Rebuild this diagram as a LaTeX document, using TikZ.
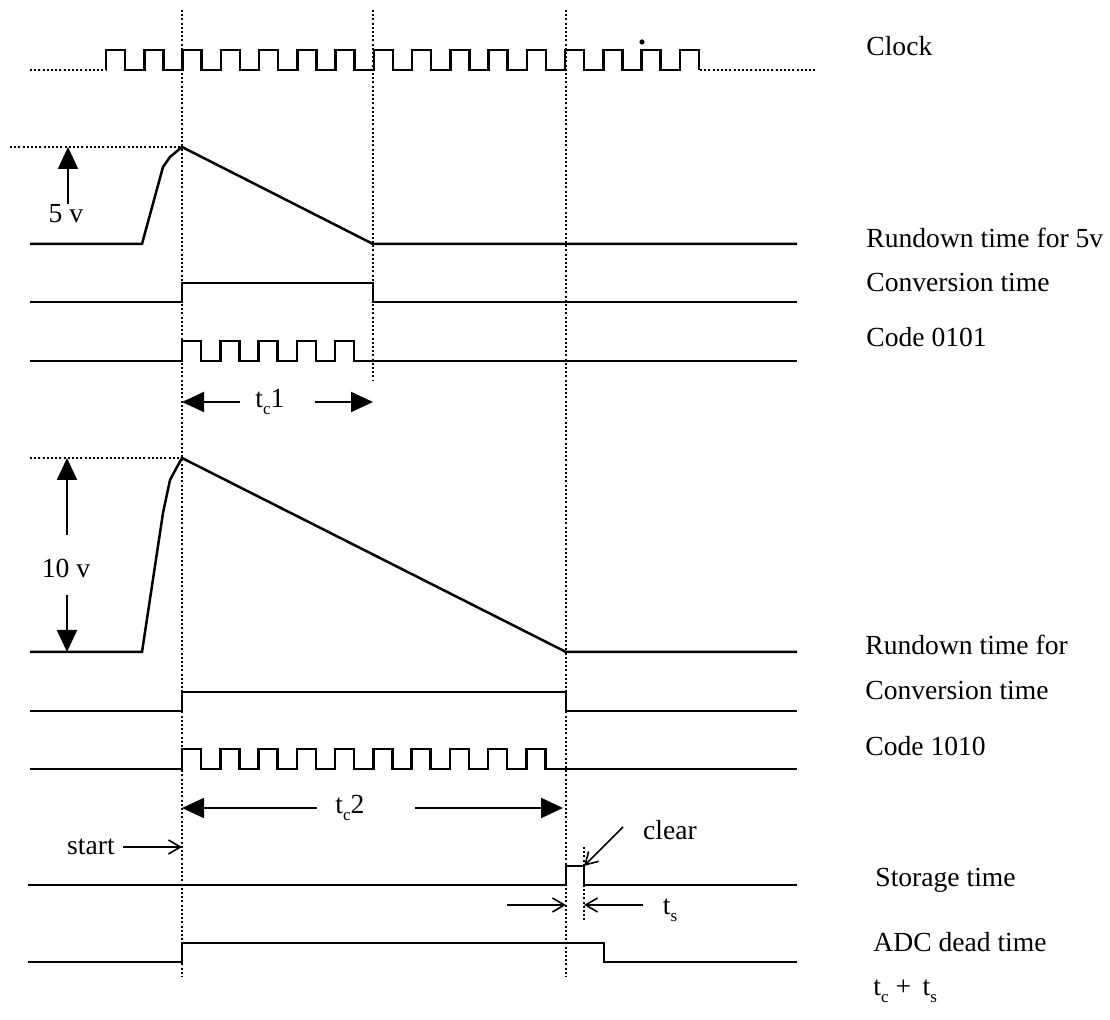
\documentclass[tikz,border=0pt]{standalone}
\usepackage{fontspec}
\setmainfont{Liberation Serif}
\usetikzlibrary{arrows.meta}
\newcommand{\lowsub}[1]{\raisebox{-0.55ex}{\fontsize{8.5}{9}\selectfont #1}}
\begin{document}
\begin{tikzpicture}[x=0.5pt,y=-0.5pt,
  sig/.style={line width=1.25pt, line join=miter},
  dotl/.style={line width=1.1pt, dash pattern=on 1pt off 1.1pt},
  big/.style={-{Triangle[length=11pt,width=10pt]}, line width=1pt},
  barb/.style={-{Straight Barb[length=6pt,width=7pt]}, line width=0.8pt},
  lab/.style={anchor=west, inner sep=0pt, font=\fontsize{13.8}{16}\selectfont},
  txt/.style={inner sep=0pt, font=\fontsize{13.8}{16}\selectfont}]
\useasboundingbox (0,0) rectangle (1110,1020);

% vertical dotted guide lines
\draw[dotl] (182,10) -- (182,977);
\draw[dotl] (373,10) -- (373,380);
\draw[dotl] (566,10) -- (566,977);
\draw[dotl] (584,847) -- (584,920);

% Clock
\draw[dotl] (30,70) -- (106,70);
\draw[sig] (106,70) \foreach \k in {0,...,14} {-- ++(0,-20) -- ++(19.125,0) -- ++(0,20) -- ++(19.125,0)} -- ++(0,-20) -- ++(19.125,0) -- ++(0,20);
\draw[dotl] (700,70) -- (817,70);
\fill (642,42) circle[radius=1.3pt];

% Rundown 5 v
\draw[dotl] (10,147) -- (182,147);
\draw[sig] (30,244) -- (142,244) -- (163,167) -- (170,157) -- (182,147) -- (373,244) -- (797,244);
\node[txt] (v5) at (66,214) {5 v};
\coordinate (v5top) at (68,147);
\draw[big] (v5.north -| v5top) -- (v5top);

% Conversion time 1
\draw[sig] (30,302) -- (182,302) -- (182,283) -- (373,283) -- (373,302) -- (797,302);
% Code 0101
\draw[sig] (30,361) -- (182,361) \foreach \k in {0,...,4} {-- ++(0,-20) -- ++(19.125,0) -- ++(0,20) -- ++(19.125,0)} -- (797,361);

% tc1
\node[txt] (tc1) at (270,402) {t\lowsub{c}1};
\coordinate (tc1L) at (182,402); \coordinate (tc1a) at (240,402);
\coordinate (tc1R) at (373,402); \coordinate (tc1b) at (315,402);
\draw[big] (tc1a) -- (tc1L);
\draw[big] (tc1b) -- (tc1R);

% Rundown 10 v
\draw[dotl] (30,458) -- (182,458);
\draw[sig] (30,652) -- (142,652) -- (163,513) -- (170,480) -- (177,467) -- (182,458) -- (566,652) -- (797,652);
\node[txt] (v10) at (66,568) {10 v};
\coordinate (v10top) at (67,458); \coordinate (v10up) at (67,535);
\coordinate (v10bot) at (67,652); \coordinate (v10dn) at (67,595);
\draw[big] (v10up) -- (v10top);
\draw[big] (v10dn) -- (v10bot);

% Conversion time 2
\draw[sig] (30,711) -- (182,711) -- (182,692) -- (566,692) -- (566,711) -- (797,711);
% Code 1010
\draw[sig] (30,769) -- (182,769) \foreach \k in {0,...,9} {-- ++(0,-20) -- ++(19.125,0) -- ++(0,20) -- ++(19.125,0)} -- (797,769);

% tc2
\node[txt] (tc2) at (350,808) {t\lowsub{c}2};
\coordinate (tc2L) at (182,808); \coordinate (tc2a) at (317,808);
\coordinate (tc2R) at (563,808); \coordinate (tc2b) at (415,808);
\draw[big] (tc2a) -- (tc2L);
\draw[big] (tc2b) -- (tc2R);

% start
\node[txt] (start) at (91,847) {start};
\coordinate (startT) at (182,847);
\draw[barb] ([xshift=4pt]start.east) -- (startT);

% Storage time
\draw[sig] (28,885) -- (566,885) -- (566,866) -- (584,866) -- (584,885) -- (797,885);
\node[txt] (clear) at (670,830) {clear};
\coordinate (clearT) at (584,866);
\coordinate (clearS) at (623,827);
\draw[barb] (clearS) -- (clearT);

% ts
\coordinate (tsL) at (566,905); \coordinate (tsLa) at (507,905);
\coordinate (tsR) at (584,905); \coordinate (tsRa) at (643,905);
\draw[barb] (tsLa) -- (tsL);
\draw[barb] (tsRa) -- (tsR);
\node[txt] (ts) at (670,910) {t\lowsub{s}};

% ADC dead time
\draw[sig] (28,962) -- (182,962) -- (182,943) -- (604,943) -- (604,962) -- (797,962);

% labels
\node[lab] (l1) at (866,46) {Clock};
\node[lab] (l2) at (866,238) {Rundown time for 5v};
\node[lab] (l3) at (866,283) {Conversion time};
\node[lab] (l4) at (866,337) {Code 0101};
\node[lab] (l5) at (865,645) {Rundown time for};
\node[lab] (l6) at (865,691) {Conversion time};
\node[lab] (l7) at (865,746) {Code 1010};
\node[lab] (l8) at (875,880) {Storage time};
\node[lab] (l9) at (873,942) {ADC dead time};
\node[lab] (l10) at (873,991) {t\lowsub{c} +\, t\lowsub{s}};
\end{tikzpicture}
\end{document}
